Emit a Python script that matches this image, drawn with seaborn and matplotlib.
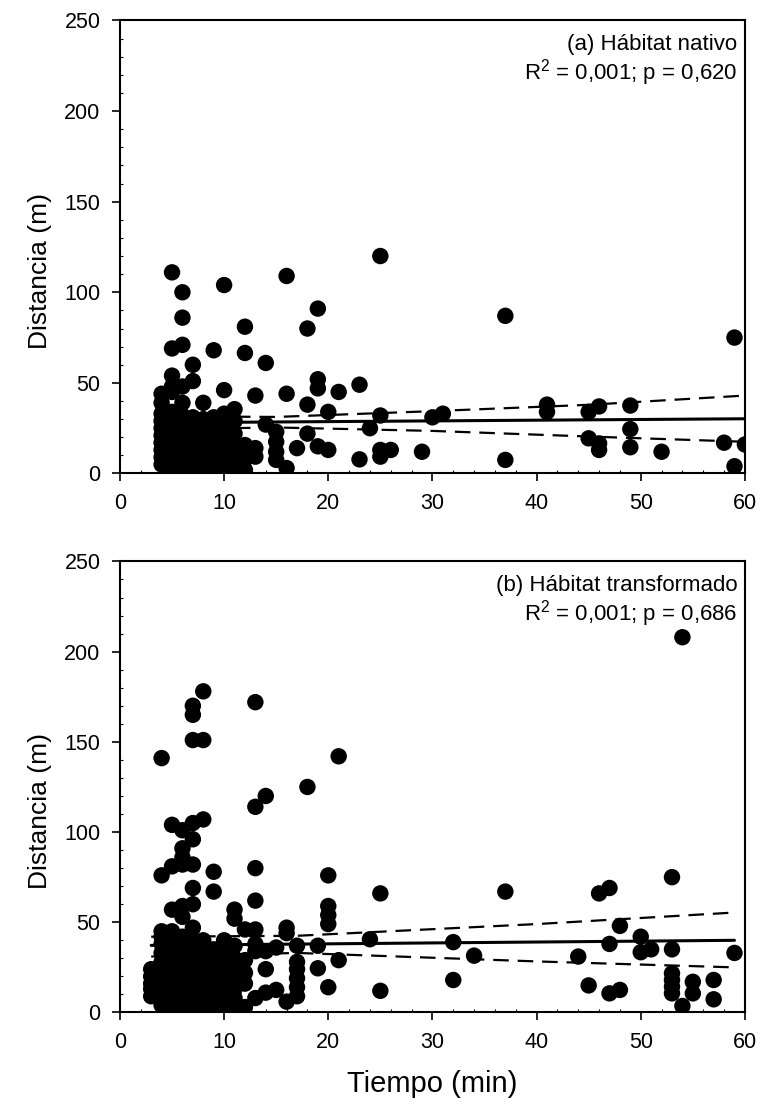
import numpy as np
import pandas as pd
import matplotlib
matplotlib.use("Agg")
import matplotlib.pyplot as plt
import seaborn as sns

# (a) Hábitat nativo: minutos -> distancias
native_pts = {
    4: [5, 9, 13, 17, 21, 25, 29, 33, 39, 44],
    5: [2, 6, 10, 14, 18, 22, 26, 30, 34, 45, 48, 54, 69, 111],
    6: [1, 4, 8, 12, 16, 20, 24, 28, 32, 39, 48, 71, 86, 100],
    7: [3, 7, 11, 15, 19, 23, 27, 31, 51, 60],
    8: [2, 6, 10, 15, 20, 25, 30, 39],
    9: [3, 8, 13, 18, 23, 31, 68],
    10: [2, 7, 12, 17, 22, 27, 30, 33, 46, 104],
    11: [4, 10, 16, 22, 29, 35.5],
    12: [2, 8, 15.7, 66.5, 81],
    13: [9.3, 14, 43],
    14: [27, 61],
    15: [7.5, 12, 17.5, 23],
    16: [3, 44, 109],
    17: [14],
    18: [22, 38, 80],
    19: [15, 47, 52, 91],
    20: [13, 34],
    21: [45],
    23: [7.8, 49],
    24: [25],
    25: [9.3, 13, 32, 120],
    26: [13],
    29: [12],
    30: [31],
    31: [33],
    37: [7.5, 87],
    41: [34, 38],
    45: [19.4, 34],
    46: [13, 16.6, 37],
    49: [14.5, 24.5, 37.5],
    52: [12],
    58: [17],
    59: [4, 75],
    60: [16],
}

# (b) Hábitat transformado
transf_pts = {
    3: [9, 13, 16, 20, 24],
    4: [4, 8, 12, 16, 20, 24, 28, 33, 38, 42, 45, 76, 141],
    5: [1, 5, 9, 13, 17, 21, 25, 29, 34, 38, 42, 45, 57, 81, 104],
    6: [2, 6, 10, 14, 18, 22, 26, 30, 34, 38, 42, 53, 59, 82, 86, 91, 101],
    7: [3, 7, 11, 15, 19, 23, 27, 31, 36, 40, 47, 60, 69, 82, 96, 105, 151, 165, 170],
    8: [2, 6, 10, 14, 18, 22, 26, 30, 35, 40, 107, 151, 178],
    9: [4, 8, 12, 16, 20, 25, 30, 35, 67, 78],
    10: [3, 7, 11, 15, 20, 25, 30, 36, 40],
    11: [3, 8, 13, 18, 24, 30, 37, 52, 57],
    12: [3, 16, 22, 29, 46],
    13: [8, 34, 38, 46, 62, 80, 114, 172],
    14: [11, 24, 34, 120],
    15: [12.5, 36],
    16: [6, 44, 47],
    17: [9, 14, 19, 24, 28, 37],
    18: [125],
    19: [24.5, 37],
    20: [14, 49, 54, 59, 76],
    21: [29, 142],
    24: [40.6],
    25: [12, 66],
    32: [18, 39],
    34: [31.5],
    37: [67],
    44: [31],
    45: [15],
    46: [66],
    47: [10.6, 38, 69],
    48: [12.5, 48],
    50: [33.4, 42],
    51: [35],
    53: [10.6, 14.3, 18, 21.7, 35, 75],
    54: [3.6, 208],
    55: [10.6, 17],
    57: [7.3, 18],
    59: [33],
}

# recta de regresión e intervalo de confianza
fit_x_a = [4, 60]
fit_y_a = [28, 30.2]
ci_x_a = [4, 15, 30, 45, 60]
upper_a = [31.6, 31.2, 34.4, 37.9, 43]
lower_a = [24.4, 25.4, 23.5, 20.4, 17.5]

fit_x_b = [3, 59]
fit_y_b = [37.2, 40]
ci_x_b = [3, 17, 40, 59]
upper_b = [42, 42.5, 49, 55.4]
lower_b = [31, 33, 28.3, 25]

titles = ["(a) Hábitat nativo", "(b) Hábitat transformado"]
stats = ["R$^2$ = 0,001; p = 0,620", "R$^2$ = 0,001; p = 0,686"]


def to_frame(pts):
    rows = [(x, y) for x, ys in pts.items() for y in ys]
    return pd.DataFrame(rows, columns=["tiempo", "distancia"])


sns.set_style("ticks")
plt.rcParams["font.family"] = ["Liberation Sans", "DejaVu Sans"]
plt.rcParams["mathtext.fontset"] = "custom"
plt.rcParams["mathtext.rm"] = "Liberation Sans"
plt.rcParams["text.color"] = "black"
plt.rcParams["axes.labelcolor"] = "black"
plt.rcParams["xtick.color"] = "black"
plt.rcParams["ytick.color"] = "black"

fig = plt.figure(figsize=(7.64, 11.12), dpi=100)
ax_a = fig.add_axes([0.157, 0.5742, 0.818, 0.4074])
ax_b = fig.add_axes([0.157, 0.0895, 0.818, 0.4056])

panels = [
    (ax_a, native_pts, fit_x_a, fit_y_a, ci_x_a, upper_a, lower_a),
    (ax_b, transf_pts, fit_x_b, fit_y_b, ci_x_b, upper_b, lower_b),
]

for i, (ax, pts, fx, fy, cx, up, lo) in enumerate(panels):
    df = to_frame(pts)
    sns.scatterplot(data=df, x="tiempo", y="distancia", ax=ax, color="black",
                    s=140, edgecolor="none", zorder=3)
    ax.plot(fx, fy, color="black", lw=2.2, zorder=4)
    ax.plot(cx, up, color="black", lw=1.6, ls=(0, (7, 4)), zorder=4)
    ax.plot(cx, lo, color="black", lw=1.6, ls=(0, (7, 4)), zorder=4)

    ax.set_xlim(0, 60)
    ax.set_ylim(0, 250)
    ax.set_xticks(range(0, 61, 10))
    ax.set_yticks(range(0, 251, 50))
    ax.set_xticks(range(0, 61, 2), minor=True)
    ax.set_yticks(range(0, 251, 10), minor=True)
    ax.tick_params(which="major", direction="out", length=6, width=1.2,
                   labelsize=15.5, pad=8)
    ax.tick_params(which="minor", direction="in", length=2.5, width=0.8)
    for sp in ax.spines.values():
        sp.set_linewidth(1.5)
        sp.set_color("black")
    ax.set_ylabel("Distancia (m)", fontsize=19)
    ax.yaxis.set_label_coords(-0.108, 0.447)
    ax.set_xlabel("")
    ax.text(0.988, 0.946, titles[i], transform=ax.transAxes, ha="right",
            va="center", fontsize=16)
    ax.text(0.988, 0.884, stats[i], transform=ax.transAxes, ha="right",
            va="center", fontsize=16)

ax_b.set_xlabel("Tiempo (min)", fontsize=21, labelpad=12)

fig.savefig("out.png", dpi=100)
